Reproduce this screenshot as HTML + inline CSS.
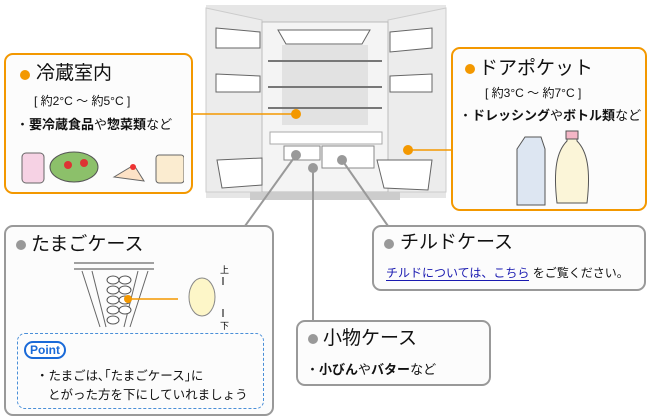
<!DOCTYPE html>
<html><head><meta charset="utf-8"><style>
body{margin:0;width:650px;height:420px;background:#fff;overflow:hidden;position:relative;font-family:"Liberation Sans","Noto Sans CJK JP",sans-serif;color:#111}
.box{position:absolute;background:#fcfcfc;border-radius:9px;box-sizing:border-box}
.o{border:2px solid #f39800}.g{border:2px solid #999}
.t{position:absolute;font-size:19px;white-space:nowrap;line-height:24px}
.s{position:absolute;font-size:12px;white-space:nowrap}
.dot{position:absolute;border-radius:50%}
b{font-weight:bold}
</style></head><body>
<svg width="650" height="420" style="position:absolute;left:0;top:0">
<rect x="206" y="5" width="240" height="193" fill="#e6e6e6"/>
<path d="M206 8 L262 20 L262 192 L206 192Z" fill="#ececec" stroke="#ccc"/>
<path d="M446 8 L388 20 L388 192 L446 192Z" fill="#ececec" stroke="#ccc"/>
<rect x="262" y="22" width="126" height="170" fill="#f4f4f4" stroke="#bbb"/>
<rect x="282" y="45" width="86" height="80" fill="#e2e2e2"/>
<path d="M278 30 L370 30 L362 44 L286 44Z" fill="#fff" stroke="#666"/>
<g stroke="#777" stroke-width="2" fill="none">
<line x1="268" y1="61" x2="382" y2="61"/><line x1="268" y1="87" x2="382" y2="87"/><line x1="268" y1="108" x2="382" y2="108"/>
</g>
<rect x="270" y="132" width="112" height="12" fill="#fff" stroke="#aaa"/>
<rect x="284" y="146" width="36" height="14" fill="#fff" stroke="#888"/>
<rect x="322" y="146" width="52" height="22" fill="#fff" stroke="#888"/>
<g fill="#fff" stroke="#666">
<path d="M216 28 L260 32 L260 48 L216 48Z"/><path d="M216 74 L260 76 L260 92 L216 92Z"/>
<path d="M390 32 L432 28 L432 48 L390 52Z"/><path d="M390 76 L432 74 L432 92 L390 92Z"/>
<path d="M217 160 L262 158 L262 185 L222 188Z"/><path d="M377 160 L432 160 L428 190 L384 188Z"/>
</g>
<rect x="250" y="192" width="150" height="8" fill="#ccc"/>
<line x1="192" y1="114" x2="296" y2="114" stroke="#f39800" stroke-width="1.5"/>
<line x1="408" y1="150" x2="452" y2="150" stroke="#f39800" stroke-width="1.5"/>
<g stroke="#999" stroke-width="2">
<line x1="296" y1="155" x2="245" y2="226"/><line x1="313" y1="168" x2="313" y2="321"/><line x1="342" y1="160" x2="388" y2="226"/>
</g>
<circle cx="296" cy="114" r="5" fill="#f39800"/><circle cx="408" cy="150" r="5" fill="#f39800"/>
<circle cx="296" cy="155" r="5" fill="#999"/><circle cx="313" cy="168" r="5" fill="#999"/><circle cx="342" cy="160" r="5" fill="#999"/>
</svg>

<div class="box o" style="left:4px;top:53px;width:189px;height:141px">
 <div class="dot" style="left:14px;top:15px;width:10px;height:10px;background:#f39800"></div>
 <div class="t" style="left:30px;top:7px">冷蔵室内</div>
 <div class="s" style="left:28px;top:37px">[ 約2°C ～ 約5°C ]</div>
 <div class="s" style="left:10px;top:59px;font-size:13px">・<b>要冷蔵食品</b>や<b>惣菜類</b>など</div>
 <svg style="position:absolute;left:10px;top:92px" width="168" height="42">
  <rect x="6" y="6" width="22" height="30" rx="4" fill="#f6d2e4" stroke="#666"/>
  <ellipse cx="58" cy="20" rx="24" ry="15" fill="#8cc06a" stroke="#555"/><circle cx="52" cy="18" r="4" fill="#d33"/><circle cx="68" cy="16" r="4" fill="#d33"/>
  <path d="M98 30 L118 18 L128 34 Z" fill="#fde2c6" stroke="#666"/><circle cx="117" cy="20" r="3" fill="#e33"/>
  <rect x="140" y="8" width="28" height="28" rx="3" fill="#fbecd0" stroke="#666"/>
 </svg>
</div>

<div class="box o" style="left:451px;top:47px;width:196px;height:164px">
 <div class="dot" style="left:12px;top:15px;width:10px;height:10px;background:#f39800"></div>
 <div class="t" style="left:26px;top:8px">ドアポケット</div>
 <div class="s" style="left:32px;top:35px">[ 約3°C ～ 約7°C ]</div>
 <div class="s" style="left:6px;top:56px;font-size:13px">・<b>ドレッシング</b>や<b>ボトル類</b>など</div>
 <svg style="position:absolute;left:58px;top:80px" width="80" height="80">
  <path d="M6 20 L14 8 L30 8 L34 20 L34 76 L6 76Z" fill="#dde6f2" stroke="#555"/>
  <path d="M56 4 L66 4 L66 12 C76 22 80 40 76 74 L46 74 C42 40 46 22 56 12Z" fill="#fbf5d8" stroke="#555"/>
  <rect x="55" y="2" width="12" height="8" fill="#f4b6c6" stroke="#555"/>
 </svg>
</div>

<div class="box g" style="left:4px;top:225px;width:270px;height:191px">
 <div class="dot" style="left:10px;top:13px;width:10px;height:10px;background:#999"></div>
 <div class="t" style="left:25px;top:6px">たまごケース</div>
 <svg style="position:absolute;left:66px;top:32px" width="170" height="72">
  <line x1="2" y1="4" x2="82" y2="4" stroke="#444"/><line x1="2" y1="10" x2="82" y2="10" stroke="#444"/>
  <path d="M10 12 L28 68 M76 12 L58 68 M20 12 L34 68 M66 12 L52 68" stroke="#666"/>
  <g fill="#fff" stroke="#555"><ellipse cx="41" cy="21" rx="6" ry="4"/><ellipse cx="53" cy="21" rx="6" ry="4"/><ellipse cx="41" cy="31" rx="6" ry="4"/><ellipse cx="53" cy="31" rx="6" ry="4"/><ellipse cx="41" cy="41" rx="6" ry="4"/><ellipse cx="53" cy="41" rx="6" ry="4"/><ellipse cx="41" cy="51" rx="6" ry="4"/><ellipse cx="53" cy="51" rx="6" ry="4"/><ellipse cx="41" cy="61" rx="6" ry="4"/></g>
  <line x1="56" y1="40" x2="106" y2="40" stroke="#f39800" stroke-width="1.5"/><circle cx="56" cy="40" r="4" fill="#f39800"/>
  <ellipse cx="130" cy="38" rx="13" ry="19" fill="#fdf6c8" stroke="#888"/>
  <text x="148" y="14" font-size="9">上</text><text x="148" y="70" font-size="9">下</text>
  <line x1="151" y1="18" x2="151" y2="26" stroke="#000"/><line x1="151" y1="50" x2="151" y2="58" stroke="#000"/>
 </svg>
 <div style="position:absolute;left:11px;top:106px;width:247px;height:76px;border:1.5px dashed #4a8fd8;border-radius:8px;box-sizing:border-box">
  <div style="position:absolute;left:6px;top:7px;border:2px solid #1a6ad8;border-radius:9px;color:#1a6ad8;font-weight:bold;font-size:12px;padding:0 4px;line-height:14px;background:#fff">Point</div>
  <div class="s" style="left:18px;top:31px;font-size:12.5px">・たまごは､｢たまごケース｣に</div>
  <div class="s" style="left:30px;top:50px;font-size:12.5px">とがった方を下にしていれましょう</div>
 </div>
</div>

<div class="box g" style="left:372px;top:225px;width:274px;height:66px">
 <div class="dot" style="left:10px;top:12px;width:10px;height:10px;background:#999"></div>
 <div class="t" style="left:26px;top:4px">チルドケース</div>
 <div class="s" style="left:12px;top:37px"><span style="color:#1a1ab0;border-bottom:1px solid #1a1ab0">チルドについては、こちら</span> をご覧ください。</div>
</div>

<div class="box g" style="left:296px;top:320px;width:195px;height:66px">
 <div class="dot" style="left:10px;top:12px;width:10px;height:10px;background:#999"></div>
 <div class="t" style="left:25px;top:5px">小物ケース</div>
 <div class="s" style="left:8px;top:37px;font-size:13px">・<b>小びん</b>や<b>バター</b>など</div>
</div>
</body></html>
